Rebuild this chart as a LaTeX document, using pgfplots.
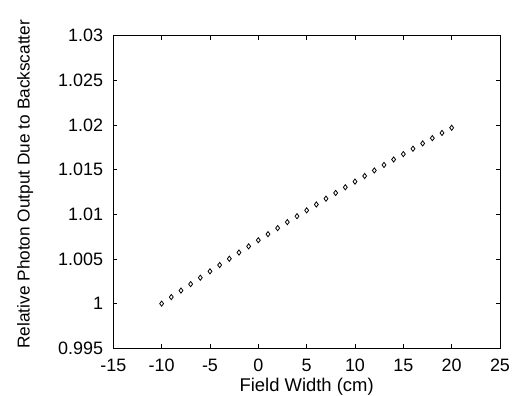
\documentclass[border=0pt]{standalone}
\usepackage{fontspec}
\setmainfont{Liberation Sans}
\usepackage{pgfplots}
\pgfplotsset{compat=1.18}
\begin{document}
\fontsize{18}{21}\selectfont
\begin{tikzpicture}
\useasboundingbox (0,0) rectangle (512bp,396bp);
\begin{axis}[
  at={(113.3bp,47.7bp)}, anchor=south west,
  scale only axis, width=386.7bp, height=312.6bp,
  xmin=-15, xmax=25, ymin=0.995, ymax=1.03,
  xtick={-15,-10,...,25},
  ytick={0.995,1,1.005,1.01,1.015,1.02,1.025,1.03},
  yticklabels={0.995,1,1.005,1.01,1.015,1.02,1.025,1.03},
  tick align=inside, major tick length=4bp,
  tick style={black, line width=0.8pt},
  axis line style={line width=0.9pt},
  /pgf/number format/assume math mode=true,
  tick label style={font=\fontsize{18}{21}\selectfont},
  xticklabel style={yshift=-5bp},
  yticklabel style={xshift=-4bp},
  xlabel={Field Width (cm)},
  ylabel={Relative Photon Output Due to Backscatter},
  xlabel style={font=\fontsize{18.5}{21}\selectfont, at={(axis description cs:0.5,-0.124)}, anchor=center},
  ylabel style={font=\fontsize{17.3}{20}\selectfont, at={(axis description cs:-0.228,0.525)}, anchor=center},
]
\addplot[only marks, mark=diamond, mark size=2.6bp, mark options={fill=white, draw=black, line width=0.8pt}] coordinates {
(-10,1.000003) (-9,1.000737) (-8,1.001465) (-7,1.002188) (-6,1.002906)
(-5,1.003618) (-4,1.004325) (-3,1.005027) (-2,1.005723) (-1,1.006414)
(0,1.007100) (1,1.007780) (2,1.008455) (3,1.009125) (4,1.009789)
(5,1.010448) (6,1.011102) (7,1.011750) (8,1.012393) (9,1.013031)
(10,1.013663) (11,1.014290) (12,1.014912) (13,1.015528) (14,1.016139)
(15,1.016744) (16,1.017344) (17,1.017939) (18,1.018529) (19,1.019113)
(20,1.019692)
};
\end{axis}
\end{tikzpicture}
\end{document}
